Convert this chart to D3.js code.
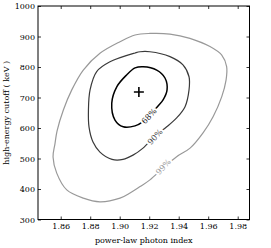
<!DOCTYPE html>
<html>
<head>
<meta charset="utf-8">
<script src="https://cdn.jsdelivr.net/npm/d3@7"></script>
<style>
  body { margin: 0; background: #fff; }
  svg text { font-family: "DejaVu Serif", serif; }
</style>
</head>
<body>
<svg id="chart" width="271" height="248"></svg>
<script>
// ticks
const xTicks = [1.86, 1.88, 1.90, 1.92, 1.94, 1.96, 1.98];
const yTicks = [300, 400, 500, 600, 700, 800, 900, 1000];

// best fit (photon index, cutoff keV)
const bestFit = [1.913, 718];

// confidence contours
const contour68 = [
  [1.898, 735], [1.9047, 774], [1.9104, 797], [1.9159, 801], [1.9251, 790],
  [1.9307, 764], [1.9321, 725], [1.9294, 692], [1.9260, 672], [1.9205, 643],
  [1.9158, 621], [1.9104, 607], [1.9024, 604], [1.8968, 626], [1.8946, 681]
];
const contour90 = [
  [1.9104, 846], [1.9138, 850], [1.9205, 850], [1.9341, 834], [1.9429, 807],
  [1.9470, 768], [1.9470, 725], [1.9443, 670], [1.9386, 633], [1.9319, 604],
  [1.9239, 574], [1.9158, 534], [1.9090, 511], [1.9022, 497], [1.8948, 497],
  [1.8866, 521], [1.8819, 554], [1.8792, 603], [1.8788, 659], [1.8799, 725],
  [1.8844, 785], [1.8934, 817]
];
const contour99 = [
  [1.8548, 505], [1.8561, 548], [1.8575, 590], [1.8618, 659], [1.8675, 725],
  [1.8753, 790], [1.8866, 845], [1.9002, 883], [1.9104, 905], [1.9205, 910],
  [1.9341, 908], [1.9476, 894], [1.9612, 867], [1.9692, 839], [1.9725, 801],
  [1.9721, 757], [1.9692, 703], [1.9633, 637], [1.9565, 584], [1.9477, 534],
  [1.9386, 506], [1.9294, 469], [1.9205, 430], [1.9138, 408], [1.9070, 387],
  [1.9002, 370], [1.8866, 358], [1.8753, 370], [1.8641, 397], [1.8573, 452]
];
const levelNames = ['68%', '90%', '99%'];
const labelAt = [[1.9199, 639], [1.9239, 571], [1.9296, 473]];

const W = 271, H = 248;
const margin = { left: 38, right: 21.5, top: 6, bottom: 28.5 };

const svg = d3.select('#chart');
const x = d3.scaleLinear().domain([1.8446, 1.988]).range([margin.left, W - margin.right]);
const y = d3.scaleLinear().domain([300, 1000]).range([H - margin.bottom, margin.top]);

const plotG = svg.append('g').attr('class', 'plot');
const axisG = svg.append('g').attr('class', 'axes');

// contours
const styles = [
  { stroke: '#000', width: 1.5, text: '#111' },
  { stroke: '#3a3a3a', width: 1.2, text: '#444' },
  { stroke: '#999', width: 1.2, text: '#9a9a9a' }
];
const line = d3.line()
  .x(d => x(d[0]))
  .y(d => y(d[1]))
  .curve(d3.curveCatmullRomClosed.alpha(0.5));

const contours = [contour68, contour90, contour99];
plotG.selectAll('path.contour')
  .data(contours)
  .join('path')
  .attr('class', 'contour')
  .attr('d', line)
  .attr('fill', 'none')
  .attr('stroke', (d, i) => styles[i].stroke)
  .attr('stroke-width', (d, i) => styles[i].width);

// inline labels (white halo hides the line under them, like clabel)
plotG.selectAll('text.clabel')
  .data(levelNames)
  .join('text')
  .attr('class', 'clabel')
  .attr('transform', (d, i) => `translate(${x(labelAt[i][0])},${y(labelAt[i][1])}) rotate(-47)`)
  .attr('text-anchor', 'middle')
  .attr('dy', '0.35em')
  .attr('font-size', 8)
  .attr('fill', (d, i) => styles[i].text)
  .attr('stroke', '#fff')
  .attr('stroke-width', 4)
  .attr('paint-order', 'stroke')
  .text(d => d);

// best-fit marker
const bx = x(bestFit[0]), by = y(bestFit[1]);
plotG.append('path')
  .attr('d', `M${bx - 5},${by}H${bx + 5}M${bx},${by - 5}V${by + 5}`)
  .attr('stroke', '#000')
  .attr('stroke-width', 1.6);

// axes, ticks inward on all sides
const fmtX = d3.format('.2f');
const fmtY = d3.format('d');
const gb = axisG.append('g')
  .attr('transform', `translate(0,${H - margin.bottom})`)
  .call(d3.axisBottom(x).tickValues(xTicks).tickFormat(fmtX).tickSize(-3).tickPadding(4));
const gt = axisG.append('g')
  .attr('transform', `translate(0,${margin.top})`)
  .call(d3.axisTop(x).tickValues(xTicks).tickFormat('').tickSize(-3));
const gl = axisG.append('g')
  .attr('transform', `translate(${margin.left},0)`)
  .call(d3.axisLeft(y).tickValues(yTicks).tickFormat(fmtY).tickSize(-3).tickPadding(3));
const gr = axisG.append('g')
  .attr('transform', `translate(${W - margin.right},0)`)
  .call(d3.axisRight(y).tickValues(yTicks).tickFormat('').tickSize(-3));

[gb, gt, gl, gr].forEach(g => {
  g.select('.domain').remove();
  g.selectAll('text').attr('font-family', '"DejaVu Serif", serif').attr('font-size', 8).attr('fill', '#000');
  g.selectAll('line').attr('stroke', '#000').attr('stroke-width', 0.8);
});

axisG.append('rect')
  .attr('x', margin.left)
  .attr('y', margin.top)
  .attr('width', W - margin.left - margin.right)
  .attr('height', H - margin.top - margin.bottom)
  .attr('fill', 'none')
  .attr('stroke', '#000')
  .attr('stroke-width', 1);

// axis titles
axisG.append('text')
  .attr('x', (margin.left + W - margin.right) / 2)
  .attr('y', 243)
  .attr('text-anchor', 'middle')
  .attr('font-size', 8)
  .text('power-law photon index');

axisG.append('text')
  .attr('transform', `translate(9,${(margin.top + H - margin.bottom) / 2}) rotate(-90)`)
  .attr('text-anchor', 'middle')
  .attr('font-size', 8)
  .text('high-energy cutoff ( keV )');
</script>
</body>
</html>
